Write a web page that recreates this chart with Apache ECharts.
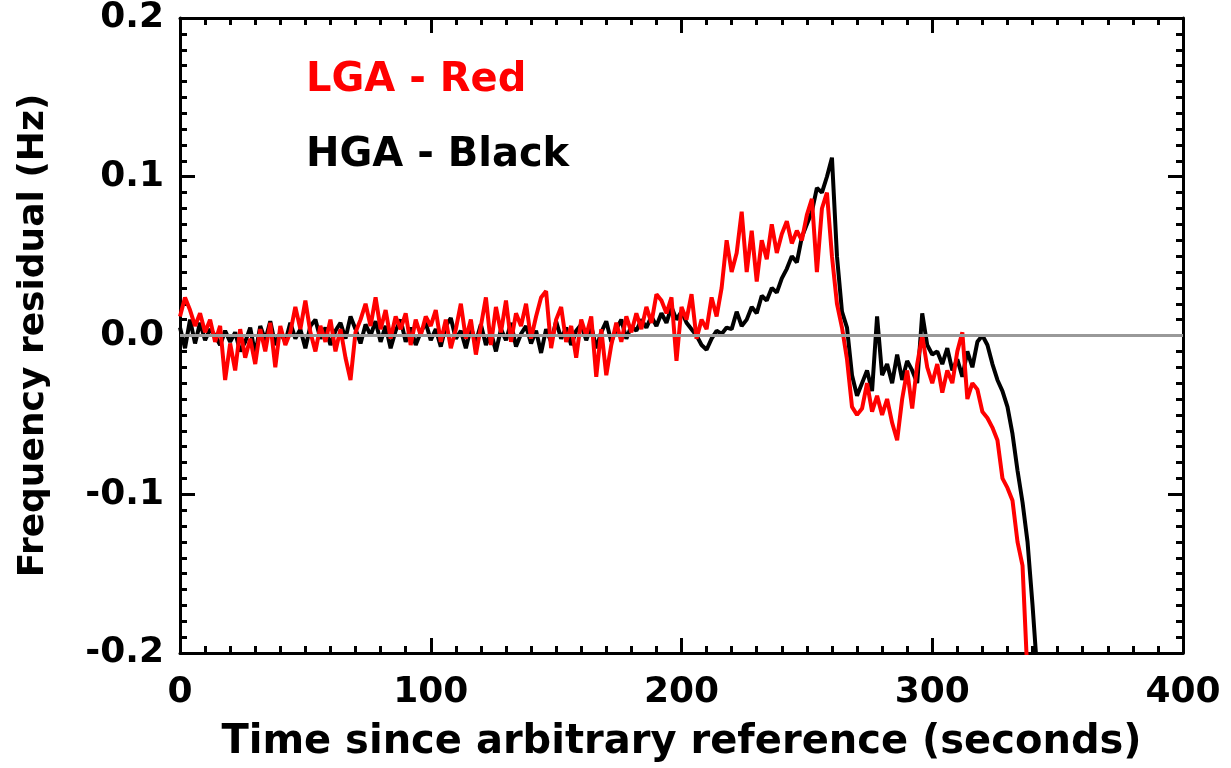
<!DOCTYPE html>
<html>
<head>
<meta charset="utf-8">
<script src="https://cdn.jsdelivr.net/npm/echarts@6/dist/echarts.min.js"></script>
<style>
  html, body { margin: 0; padding: 0; background: #fff; }
  #chart { width: 1231px; height: 768px; }
</style>
</head>
<body>
<div id="chart"></div>
<script>
// sample times (seconds), one every 2 s
var times = [
  0,2,4,6,8,10,12,14,16,18,20,22,24,26,28,30,32,34,36,38,40,
  42,44,46,48,50,52,54,56,58,60,62,64,66,68,70,72,74,76,78,80,
  82,84,86,88,90,92,94,96,98,100,102,104,106,108,110,112,114,116,118,120,
  122,124,126,128,130,132,134,136,138,140,142,144,146,148,150,152,154,156,158,160,
  162,164,166,168,170,172,174,176,178,180,182,184,186,188,190,192,194,196,198,200,
  202,204,206,208,210,212,214,216,218,220,222,224,226,228,230,232,234,236,238,240,
  242,244,246,248,250,252,254,256,258,260,262,264,266,268,270,272,274,276,278,280,
  282,284,286,288,290,292,294,296,298,300,302,304,306,308,310,312,314,316,318,320,
  322,324,326,328,330,332,334,336,338,340,342
];

// HGA (black) frequency residual, Hz
var hga = [
  0.005,-0.008,0.010,-0.005,0.008,-0.003,0.004,0.000,-0.006,0.003,-0.004,
  0.002,-0.010,-0.004,0.005,-0.012,0.006,-0.003,0.009,-0.006,0.002,
  -0.004,0.008,-0.002,0.004,-0.008,0.006,0.010,-0.002,0.005,-0.006,
  0.003,0.008,-0.002,0.012,0.004,-0.005,0.007,0.000,0.009,-0.004,
  0.006,-0.008,0.003,0.010,-0.004,0.005,-0.006,0.002,0.008,-0.003,
  0.004,-0.007,0.006,0.011,-0.002,0.003,-0.008,0.005,-0.004,0.007,
  -0.006,0.002,-0.010,0.004,-0.003,0.008,-0.007,0.001,0.006,-0.005,
  0.003,-0.011,0.004,-0.004,0.009,-0.002,0.005,-0.006,0.003,0.007,
  -0.003,0.006,-0.008,0.002,0.009,-0.004,0.004,0.010,-0.002,0.006,
  0.003,0.010,0.005,0.012,0.006,0.014,0.008,0.018,0.010,0.015,
  0.008,0.004,0.000,-0.006,-0.009,-0.002,0.003,0.001,0.005,0.004,
  0.015,0.006,0.010,0.018,0.014,0.025,0.022,0.030,0.027,0.036,
  0.042,0.050,0.046,0.062,0.070,0.078,0.093,0.090,0.100,0.112,
  0.050,0.015,0.005,-0.025,-0.038,-0.030,-0.022,-0.035,0.012,-0.025,
  -0.018,-0.030,-0.012,-0.028,-0.016,-0.022,-0.030,0.014,-0.006,-0.012,
  -0.010,-0.018,-0.008,-0.022,-0.015,-0.026,-0.010,-0.020,-0.004,0.000,
  -0.006,-0.018,-0.028,-0.035,-0.045,-0.062,-0.085,-0.105,-0.130,-0.170,-0.215
];

// LGA (red) frequency residual, Hz
var lga = [
  0.012,0.024,0.016,0.006,0.014,0.002,0.010,-0.004,0.006,-0.028,-0.005,
  -0.022,0.004,-0.014,-0.002,-0.018,0.004,-0.010,0.008,-0.020,0.006,
  -0.006,0.002,0.018,0.004,0.022,0.002,-0.010,0.006,-0.004,0.010,
  -0.010,0.004,-0.014,-0.028,0.002,0.010,0.020,0.006,0.024,0.004,
  0.016,-0.002,0.012,0.004,0.014,-0.006,0.010,0.000,0.012,0.006,
  0.016,-0.004,0.010,-0.008,0.004,0.020,-0.002,0.010,-0.012,0.006,
  0.024,-0.006,0.018,0.002,0.022,-0.004,0.014,0.006,0.020,-0.002,
  0.012,0.024,0.028,-0.008,0.010,0.018,-0.004,0.006,-0.014,0.010,
  0.000,0.012,-0.026,0.004,-0.025,-0.006,0.008,-0.004,0.012,0.002,
  0.014,0.004,0.018,0.008,0.026,0.022,0.014,0.024,-0.016,0.018,
  0.010,0.026,-0.002,0.010,0.004,0.024,0.012,0.030,0.060,0.040,
  0.052,0.078,0.040,0.066,0.034,0.060,0.048,0.070,0.052,0.064,
  0.072,0.058,0.066,0.060,0.076,0.086,0.040,0.080,0.090,0.050,
  0.020,0.005,-0.015,-0.045,-0.050,-0.046,-0.030,-0.048,-0.038,-0.050,
  -0.040,-0.055,-0.066,-0.040,-0.022,-0.046,-0.018,0.000,-0.020,-0.030,
  -0.018,-0.036,-0.022,-0.030,-0.010,0.002,-0.040,-0.030,-0.034,-0.048,
  -0.052,-0.058,-0.066,-0.090,-0.096,-0.104,-0.130,-0.145,-0.215
];

var xTicks = [0, 100, 200, 300, 400];
var yTicks = [-0.2, -0.1, 0.0, 0.1, 0.2];

function pairs(xs, ys) {
  var out = [];
  for (var i = 0; i < ys.length; i++) out.push([xs[i], ys[i]]);
  return out;
}

var font = '"DejaVu Sans", "Liberation Sans", Arial, sans-serif';
var tickStyle = { show: true, inside: true, length: 15, lineStyle: { color: '#000', width: 3 } };
var minorStyle = { show: true, splitNumber: 10, length: 7, lineStyle: { color: '#000', width: 3 } };

function xAx(pos, labels) {
  return {
    type: 'value', position: pos, min: xTicks[0], max: xTicks[xTicks.length - 1], interval: 100,
    axisLine: { show: true, onZero: false, lineStyle: { color: '#000', width: 3 } },
    axisTick: tickStyle, minorTick: minorStyle, splitLine: { show: false },
    axisLabel: { show: labels, margin: 22, color: '#000', fontSize: 36, fontWeight: 'bold', fontFamily: font },
    name: labels ? 'Time since arbitrary reference (seconds)' : '',
    nameLocation: 'middle', nameGap: 70,
    nameTextStyle: { color: '#000', fontSize: 40, fontWeight: 'bold', fontFamily: font }
  };
}
function yAx(pos, labels) {
  return {
    type: 'value', position: pos, min: yTicks[0], max: yTicks[yTicks.length - 1], interval: 0.1,
    axisLine: { show: true, onZero: false, lineStyle: { color: '#000', width: 3 } },
    axisTick: tickStyle, minorTick: minorStyle, splitLine: { show: false },
    axisLabel: { show: labels, margin: 16, color: '#000', fontSize: 36, fontWeight: 'bold', fontFamily: font,
      formatter: function (v) { return v.toFixed(1); } },
    name: labels ? 'Frequency residual (Hz)' : '',
    nameLocation: 'middle', nameGap: 128,
    nameTextStyle: { color: '#000', fontSize: 36, fontWeight: 'bold', fontFamily: font }
  };
}

var chart = echarts.init(document.getElementById('chart'));
chart.setOption({
  backgroundColor: '#fff',
  animation: false,
  grid: { left: 180, right: 48, top: 14, bottom: 115 },
  xAxis: [xAx('bottom', true), xAx('top', false)],
  yAxis: [yAx('left', true), yAx('right', false)],
  graphic: [
    { type: 'text', left: 306, top: 61, style: { text: 'LGA - Red', fill: '#f00', font: 'bold 40px ' + font } },
    { type: 'text', left: 306, top: 136, style: { text: 'HGA - Black', fill: '#000', font: 'bold 40px ' + font } }
  ],
  series: [
    {
      type: 'line', name: 'zero', data: [], z: 1,
      markLine: {
        silent: true, symbol: 'none', label: { show: false },
        lineStyle: { color: '#999', width: 3, type: 'solid' },
        data: [{ yAxis: 0 }]
      }
    },
    {
      type: 'line', name: 'HGA', data: pairs(times, hga), showSymbol: false, z: 2,
      lineStyle: { color: '#000', width: 4 }, itemStyle: { color: '#000' }
    },
    {
      type: 'line', name: 'LGA', data: pairs(times, lga), showSymbol: false, z: 3,
      lineStyle: { color: '#f00', width: 4 }, itemStyle: { color: '#f00' }
    }
  ]
});
</script>
</body>
</html>
